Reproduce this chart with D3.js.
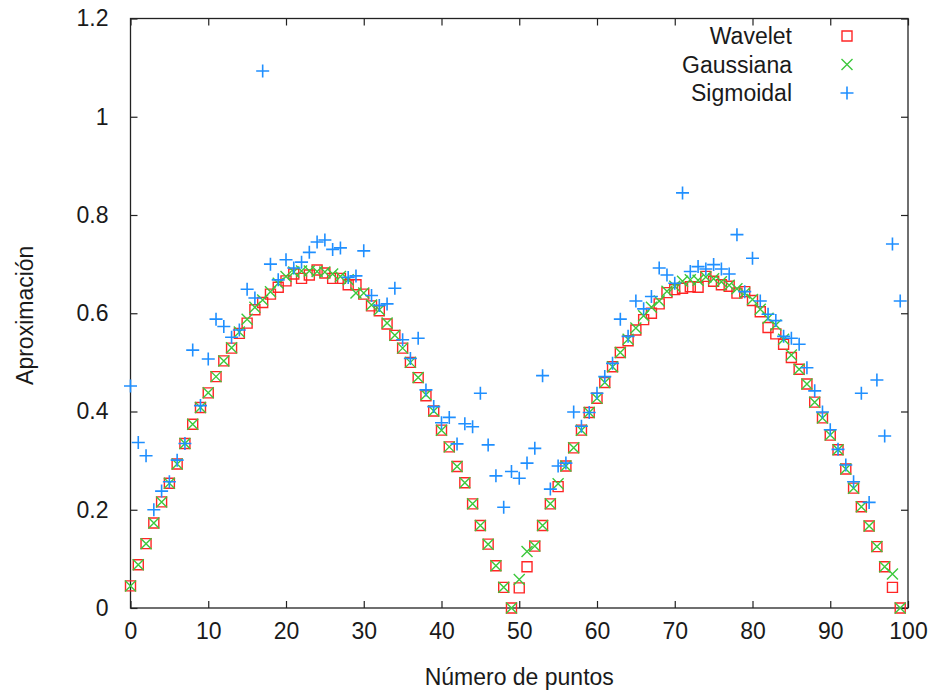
<!DOCTYPE html>
<html>
<head>
<meta charset="utf-8">
<script src="https://cdn.jsdelivr.net/npm/d3@7"></script>
<style>
  html, body { margin: 0; padding: 0; background: #fff; }
  svg { display: block; font-family: "Liberation Sans", Arial, sans-serif; }
</style>
</head>
<body>
<svg id="chart" width="933" height="696"></svg>
<script>
// Approximation quality of three activation functions over 100 sample points
const seriesNames = ["Wavelet", "Gaussiana", "Sigmoidal"];

const wavelet = [
  0.045, 0.088, 0.131, 0.173, 0.216, 0.254, 0.293, 0.335, 0.374, 0.408,
  0.438, 0.471, 0.503, 0.529, 0.559, 0.580, 0.607, 0.622, 0.639, 0.653,
  0.666, 0.680, 0.671, 0.678, 0.688, 0.682, 0.671, 0.671, 0.658, 0.658,
  0.639, 0.615, 0.605, 0.578, 0.555, 0.529, 0.500, 0.469, 0.432, 0.401,
  0.362, 0.328, 0.288, 0.255, 0.212, 0.168, 0.130, 0.086, 0.042, 0.000,
  0.041, 0.084, 0.126, 0.168, 0.212, 0.247, 0.289, 0.326, 0.362, 0.398,
  0.427, 0.459, 0.491, 0.520, 0.544, 0.566, 0.587, 0.600, 0.619, 0.642,
  0.648, 0.651, 0.654, 0.653, 0.675, 0.665, 0.658, 0.655, 0.641, 0.644,
  0.626, 0.603, 0.571, 0.558, 0.537, 0.510, 0.486, 0.456, 0.419, 0.387,
  0.352, 0.322, 0.283, 0.244, 0.206, 0.167, 0.125, 0.084, 0.042, 0.000
];

const gaussiana = [
  0.045, 0.088, 0.131, 0.173, 0.216, 0.254, 0.293, 0.335, 0.374, 0.408,
  0.438, 0.471, 0.503, 0.530, 0.562, 0.588, 0.612, 0.627, 0.644, 0.661,
  0.675, 0.684, 0.686, 0.686, 0.685, 0.684, 0.680, 0.675, 0.668, 0.641,
  0.641, 0.617, 0.607, 0.580, 0.555, 0.529, 0.500, 0.469, 0.434, 0.401,
  0.362, 0.328, 0.288, 0.255, 0.212, 0.168, 0.130, 0.086, 0.042, 0.000,
  0.058, 0.115, 0.126, 0.168, 0.212, 0.253, 0.289, 0.326, 0.362, 0.398,
  0.427, 0.459, 0.491, 0.520, 0.547, 0.570, 0.595, 0.612, 0.625, 0.645,
  0.655, 0.665, 0.668, 0.667, 0.674, 0.670, 0.664, 0.657, 0.650, 0.641,
  0.628, 0.608, 0.590, 0.576, 0.547, 0.515, 0.486, 0.456, 0.419, 0.387,
  0.352, 0.322, 0.283, 0.244, 0.206, 0.167, 0.125, 0.084, 0.069, 0.000
];

const sigmoidal = [
  0.452, 0.337, 0.310, 0.200, 0.238, 0.257, 0.301, 0.335, 0.525, 0.412,
  0.507, 0.588, 0.573, 0.551, 0.566, 0.649, 0.631, 1.093, 0.700, 0.668,
  0.709, 0.692, 0.704, 0.724, 0.745, 0.749, 0.730, 0.733, 0.673, 0.676,
  0.727, 0.636, 0.616, 0.619, 0.651, 0.546, 0.508, 0.549, 0.444, 0.410,
  0.377, 0.388, 0.334, 0.375, 0.369, 0.437, 0.332, 0.269, 0.205, 0.278,
  0.264, 0.295, 0.325, 0.473, 0.242, 0.289, 0.295, 0.399, 0.370, 0.398,
  0.437, 0.471, 0.498, 0.588, 0.553, 0.625, 0.609, 0.634, 0.692, 0.678,
  0.661, 0.845, 0.685, 0.695, 0.690, 0.699, 0.690, 0.680, 0.760, 0.644,
  0.712, 0.625, 0.598, 0.585, 0.553, 0.549, 0.537, 0.489, 0.442, 0.399,
  0.363, 0.323, 0.291, 0.257, 0.437, 0.215, 0.464, 0.350, 0.741, 0.625
];

const xTicks = [0, 10, 20, 30, 40, 50, 60, 70, 80, 90, 100];
const xTickLabels = ["0", "10", "20", "30", "40", "50", "60", "70", "80", "90", "100"];
const yTicks = [0, 0.2, 0.4, 0.6, 0.8, 1.0, 1.2];
const yTickLabels = ["0", "0.2", "0.4", "0.6", "0.8", "1", "1.2"];

const xTitle = "Número de puntos";
const yTitle = "Aproximación";

// ---- layout ----
const W = 933, H = 696;
const plot = { left: 130.5, right: 908, top: 18.5, bottom: 608 };
const fontSize = 23;
const textColor = "#1a1a1a";
const axisColor = "#222";
const colors = ["#ff2626", "#3cc83c", "#1f8fff"];

const svg = d3.select("#chart");

const x = d3.scaleLinear().domain([0, 100]).range([plot.left, plot.right]);
const y = d3.scaleLinear().domain([0, 1.2]).range([plot.bottom, plot.top]);

function styleAxis(g) {
  g.select(".domain").remove();
  g.selectAll(".tick line").attr("stroke", axisColor).attr("stroke-width", 1.2);
  g.selectAll(".tick text")
    .attr("fill", textColor)
    .style("font-size", fontSize + "px")
    .style("font-family", "'Liberation Sans', Arial, sans-serif");
}

// bottom axis with labels, ticks pointing inward
svg.append("g")
  .attr("transform", `translate(0,${plot.bottom})`)
  .call(d3.axisBottom(x).tickValues(xTicks)
    .tickFormat((d, i) => xTickLabels[i])
    .tickSize(-7).tickSizeOuter(0).tickPadding(15))
  .call(styleAxis);

// top mirror ticks
svg.append("g")
  .attr("transform", `translate(0,${plot.top})`)
  .call(d3.axisTop(x).tickValues(xTicks).tickFormat("")
    .tickSize(-7).tickSizeOuter(0))
  .call(styleAxis);

// left axis with labels
svg.append("g")
  .attr("transform", `translate(${plot.left},0)`)
  .call(d3.axisLeft(y).tickValues(yTicks)
    .tickFormat((d, i) => yTickLabels[i])
    .tickSize(-7).tickSizeOuter(0).tickPadding(22))
  .call(styleAxis);

// right mirror ticks
svg.append("g")
  .attr("transform", `translate(${plot.right},0)`)
  .call(d3.axisRight(y).tickValues(yTicks).tickFormat("")
    .tickSize(-7).tickSizeOuter(0))
  .call(styleAxis);

// frame
svg.append("rect")
  .attr("x", plot.left).attr("y", plot.top)
  .attr("width", plot.right - plot.left)
  .attr("height", plot.bottom - plot.top)
  .attr("fill", "none").attr("stroke", axisColor).attr("stroke-width", 1.3);

// axis titles
svg.append("text")
  .attr("x", (plot.left + plot.right) / 2)
  .attr("y", 685)
  .attr("text-anchor", "middle")
  .attr("fill", textColor)
  .style("font-size", fontSize + "px")
  .text(xTitle);

svg.append("text")
  .attr("transform", `translate(33,${(plot.top + plot.bottom) / 2 + 2}) rotate(-90)`)
  .attr("text-anchor", "middle")
  .attr("fill", textColor)
  .style("font-size", fontSize + "px")
  .text(yTitle);

// marker shapes
const markerPath = [
  // square
  () => "M-5,-5H5V5H-5Z",
  // cross (x)
  () => "M-5.5,-5.5L5.5,5.5M-5.5,5.5L5.5,-5.5",
  // plus
  () => "M-6.5,0H6.5M0,-6.5V6.5"
];

const allSeries = [wavelet, gaussiana, sigmoidal];

allSeries.forEach((vals, s) => {
  svg.append("g")
    .selectAll("path")
    .data(vals)
    .join("path")
    .attr("transform", (d, i) => `translate(${x(i)},${y(d)})`)
    .attr("d", markerPath[s])
    .attr("fill", "none")
    .attr("stroke", colors[s])
    .attr("stroke-width", s === 2 ? 1.6 : 1.4);
});

// legend
const legendY = [36, 64.5, 93];
const legend = svg.append("g");
seriesNames.forEach((name, s) => {
  legend.append("text")
    .attr("x", 792)
    .attr("y", legendY[s] + 8)
    .attr("text-anchor", "end")
    .attr("fill", textColor)
    .style("font-size", fontSize + "px")
    .text(name);
  legend.append("path")
    .attr("transform", `translate(847,${legendY[s]})`)
    .attr("d", markerPath[s]())
    .attr("fill", "none")
    .attr("stroke", colors[s])
    .attr("stroke-width", s === 2 ? 1.6 : 1.4);
});
</script>
</body>
</html>
